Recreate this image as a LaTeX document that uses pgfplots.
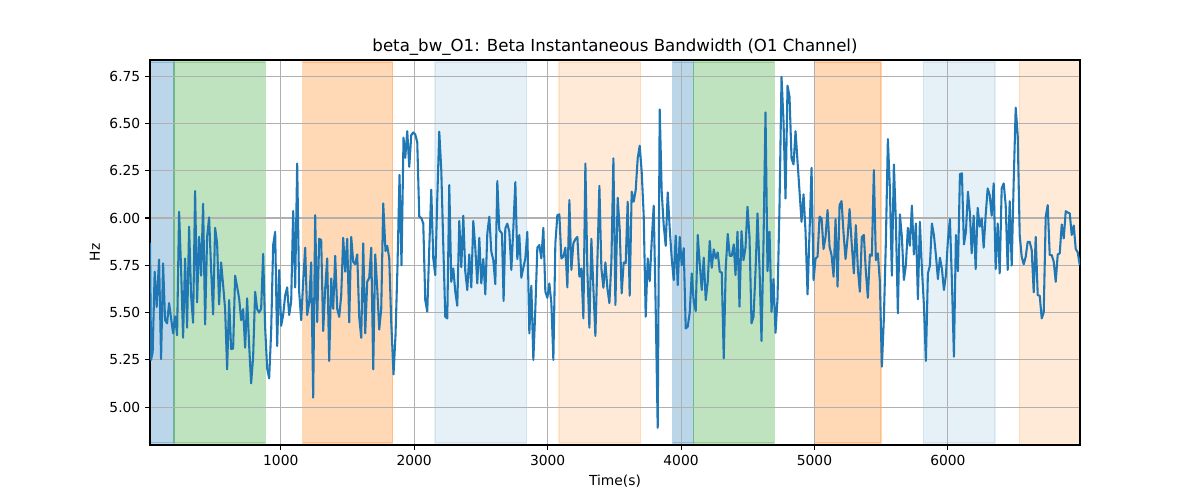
\documentclass[border=0pt]{standalone}
\usepackage{fontspec}
\setmainfont{DejaVu Sans}
\usepackage{pgfplots}
\pgfplotsset{compat=1.18}
\definecolor{c0}{HTML}{1F77B4}
\definecolor{c1}{HTML}{FF7F0E}
\definecolor{c2}{HTML}{2CA02C}
\definecolor{gridc}{HTML}{B0B0B0}
\begin{document}
\begin{tikzpicture}
\begin{axis}[
  set layers,
  at={(0,0)}, anchor=south west,
  scale only axis, width=9.3in, height=3.85in,
  xmin=20, xmax=6990, ymin=4.80, ymax=6.835,
  xtick={1000,2000,3000,4000,5000,6000},
  ytick={5,5.25,5.5,5.75,6,6.25,6.5,6.75},
  yticklabel style={/pgf/number format/.cd,fixed,fixed zerofill,precision=2},
  /pgf/number format/assume math mode=true,
  scaled ticks=false,
  xticklabel style={/pgf/number format/1000 sep={}},
  grid=major, grid style={gridc, line width=0.8pt},
  tick align=outside, tick pos=left, major tick length=3.5pt,
  tick style={black, line width=0.8pt},
  axis line style={line width=0.8pt},
  ticklabel style={font=\fontsize{10}{12}\selectfont},
  label style={font=\fontsize{10}{12}\selectfont},
  xlabel={Time(s)}, ylabel={Hz},
  title={beta\_bw\_O1: Beta Instantaneous Bandwidth (O1 Channel)},
  title style={font=\fontsize{12}{14}\selectfont, at={(0.5,1)}, anchor=base, yshift=0.3pt, inner sep=0pt},
]
% shaded spans
\addplot[on layer=axis background, fill=c0, draw=c0, line width=1pt, opacity=0.3] coordinates {(20,4.81)(20,6.825)(200,6.825)(200,4.81)} --cycle;
\addplot[on layer=axis background, fill=c2, draw=c2, line width=1pt, opacity=0.3] coordinates {(200,4.81)(200,6.825)(885,6.825)(885,4.81)} --cycle;
\addplot[on layer=axis background, fill=c1, draw=c1, line width=1pt, opacity=0.3] coordinates {(1165,4.81)(1165,6.825)(1838,6.825)(1838,4.81)} --cycle;
\addplot[on layer=axis background, fill=c0, draw=c0, line width=1pt, opacity=0.11] coordinates {(2155,4.81)(2155,6.825)(2843,6.825)(2843,4.81)} --cycle;
\addplot[on layer=axis background, fill=c1, draw=c1, line width=1pt, opacity=0.16] coordinates {(3085,4.81)(3085,6.825)(3698,6.825)(3698,4.81)} --cycle;
\addplot[on layer=axis background, fill=c0, draw=c0, line width=1pt, opacity=0.3] coordinates {(3937,4.81)(3937,6.825)(4093,6.825)(4093,4.81)} --cycle;
\addplot[on layer=axis background, fill=c2, draw=c2, line width=1pt, opacity=0.3] coordinates {(4093,4.81)(4093,6.825)(4700,6.825)(4700,4.81)} --cycle;
\addplot[on layer=axis background, fill=c1, draw=c1, line width=1pt, opacity=0.3] coordinates {(5000,4.81)(5000,6.825)(5498,6.825)(5498,4.81)} --cycle;
\addplot[on layer=axis background, fill=c0, draw=c0, line width=1pt, opacity=0.11] coordinates {(5816,4.81)(5816,6.825)(6353,6.825)(6353,4.81)} --cycle;
\addplot[on layer=axis background, fill=c1, draw=none, opacity=0.16] coordinates {(6535,4.8)(6535,6.835)(6990,6.835)(6990,4.8)} --cycle;
\addplot[on layer=axis background, draw=c1, line width=1pt, opacity=0.16] coordinates {(6535,4.81)(6535,6.825)};
% signal
\addplot[c0, line width=1.5pt, mark=none, line join=round] coordinates {
(20,5.87)(28,5.25)(40,5.29)(55,5.716)(70,5.53)(88,5.78)(103,5.254)(118,5.76)(133,5.46)(148,5.443)(163,5.55)(178,5.47)(193,5.39)(208,5.48)(223,5.38)(238,6.033)(253,5.73)(268,5.367)(283,5.786)(298,5.42)(313,5.954)(328,5.59)(343,5.446)(358,6.142)(373,5.554)(388,5.90)(403,5.695)(418,6.075)(433,5.437)(448,5.90)(463,6.003)(478,5.73)(493,5.49)(508,5.948)(523,5.866)(538,5.543)(553,5.765)(568,5.645)(583,5.518)(598,5.20)(613,5.566)(628,5.307)(643,5.31)(658,5.695)(673,5.637)(688,5.575)(703,5.46)(718,5.518)(733,5.314)(748,5.575)(763,5.328)(778,5.126)(793,5.267)(808,5.61)(823,5.518)(838,5.50)(853,5.52)(868,5.81)(883,5.42)(898,5.205)
(913,5.152)(928,5.40)(943,5.857)(958,5.927)(973,5.323)(988,5.725)(1003,5.43)(1018,5.487)(1033,5.59)(1048,5.633)(1063,5.487)(1078,5.557)(1093,6.037)(1108,5.633)(1123,6.288)(1138,5.61)(1153,5.46)(1168,5.663)(1183,5.843)(1198,5.487)(1213,5.55)(1228,5.765)(1243,5.05)(1258,6.015)(1273,5.45)(1288,5.89)(1303,5.883)(1318,5.402)(1333,5.627)(1348,5.786)(1363,5.244)(1378,5.68)(1393,5.52)(1408,5.80)(1423,5.52)(1438,5.477)(1453,5.59)(1468,5.895)(1483,5.716)(1498,5.89)(1513,5.448)(1528,5.90)(1543,5.768)(1558,5.756)(1573,5.807)(1588,5.477)(1603,5.367)(1618,5.866)(1633,5.39)(1648,5.663)(1663,5.684)(1678,5.843)(1693,5.20)(1708,5.807)(1723,5.627)(1738,5.41)(1753,5.52)(1768,6.077)
(1785,5.825)(1798,5.853)(1813,5.786)(1828,5.45)(1845,5.173)(1860,5.38)(1875,5.75)(1890,6.227)(1905,5.75)(1920,6.424)(1933,6.318)(1948,6.459)(1963,6.27)(1978,6.438)(1993,6.452)(2008,6.442)(2023,6.40)(2038,6.007)(2053,6.0)(2068,5.971)(2083,5.566)(2098,5.505)(2113,5.84)(2128,6.15)(2143,5.786)(2158,5.698)(2173,6.103)(2188,6.456)(2203,6.253)(2218,5.857)(2233,5.478)(2248,5.469)(2263,6.174)(2278,5.663)(2293,5.733)(2308,5.61)(2323,5.536)(2338,5.984)(2353,5.74)(2368,6.012)(2383,5.716)(2398,5.619)(2413,5.807)(2428,5.633)(2443,5.984)(2458,5.84)(2473,5.654)(2488,5.895)(2503,5.654)(2518,5.783)(2533,5.596)(2548,5.918)(2563,6.007)(2578,5.822)(2593,5.777)(2608,5.65)(2623,6.195)(2638,5.936)
(2645,5.93)(2658,5.918)(2670,5.561)(2683,5.945)(2698,5.97)(2713,5.927)(2728,5.725)(2743,5.945)(2758,6.19)(2773,5.783)(2788,5.91)(2803,5.684)(2818,5.737)(2833,5.786)(2848,5.927)(2863,5.39)(2878,5.642)(2893,5.25)(2908,5.52)(2923,5.843)(2938,5.857)(2953,5.786)(2968,5.948)(2983,5.61)(2998,5.578)(3013,5.654)(3028,5.55)(3043,5.25)(3058,5.866)(3073,6.015)(3088,6.019)(3103,5.786)(3118,5.795)(3133,5.843)(3148,5.633)(3163,6.095)(3178,5.725)(3193,5.866)(3208,5.888)(3223,5.90)(3238,5.69)(3253,5.733)(3268,5.469)(3283,6.288)(3298,5.716)(3313,5.42)(3328,5.89)(3343,5.628)(3358,5.376)(3388,6.17)(3403,5.733)(3418,5.631)(3433,5.765)(3448,5.628)(3463,5.55)(3478,5.77)(3493,6.315)(3508,5.54)
(3525,6.107)(3540,5.945)(3555,5.601)(3570,5.765)(3585,5.76)(3600,6.086)(3615,5.589)(3630,6.139)(3645,6.086)(3660,6.147)(3675,6.315)(3690,6.382)(3705,6.244)(3720,6.015)(3735,5.478)(3750,5.786)(3765,5.666)(3780,5.874)(3795,6.065)(3810,5.52)(3825,4.891)(3840,6.574)(3855,6.139)(3870,5.962)(3885,5.853)(3900,6.135)(3915,5.945)(3930,5.786)(3945,5.672)(3960,5.906)(3975,5.645)(3990,5.90)(4005,5.75)(4020,5.84)(4035,5.416)(4050,5.425)(4065,5.50)(4080,5.707)(4095,5.557)(4110,5.508)(4125,5.91)(4140,5.76)(4155,5.619)(4170,5.79)(4185,5.566)(4200,5.663)(4215,5.878)(4230,5.737)(4245,5.834)(4260,5.786)(4275,5.818)(4290,5.716)(4305,5.712)(4320,5.258)(4335,5.737)(4350,5.915)(4365,5.80)(4380,5.80)(4395,5.86)
(4408,5.698)(4423,5.927)(4438,5.531)(4453,5.93)(4468,5.777)(4483,5.843)(4498,6.059)(4513,5.90)(4528,5.443)(4543,5.478)(4558,5.716)(4573,6.024)(4588,5.733)(4603,5.35)(4618,5.874)(4633,6.558)(4648,5.719)(4663,5.927)(4678,5.504)(4693,5.677)(4708,5.393)(4723,5.575)(4738,6.068)(4753,6.746)(4768,6.509)(4783,6.103)(4798,6.699)(4813,6.641)(4828,6.315)(4843,6.283)(4858,6.459)(4873,6.297)(4888,6.139)(4903,5.98)(4918,6.125)(4933,5.927)(4948,5.596)(4963,5.927)(4978,6.265)(4993,5.672)(5008,5.786)(5023,5.795)(5038,6.007)(5053,5.998)(5068,5.836)(5083,5.90)(5098,6.042)(5113,5.848)(5128,5.804)(5143,5.69)(5158,5.994)(5173,5.637)(5188,6.068)(5203,6.089)(5218,5.918)(5233,5.783)(5248,5.895)(5263,6.047)(5278,5.874)
(5295,5.707)(5310,5.962)(5325,5.733)(5340,5.61)(5355,5.90)(5370,5.91)(5385,5.716)(5400,5.578)(5415,5.807)(5430,5.80)(5445,6.253)(5460,5.777)(5475,5.813)(5490,5.663)(5505,5.214)(5520,5.469)(5535,5.874)(5550,6.417)(5565,6.158)(5580,5.695)(5595,6.283)(5610,5.98)(5625,5.496)(5640,6.019)(5655,5.90)(5670,5.672)(5685,5.751)(5700,5.948)(5715,5.853)(5730,6.065)(5745,5.807)(5760,5.971)(5775,5.571)(5790,5.98)(5805,5.733)(5820,5.54)(5835,5.244)(5850,5.707)(5865,5.748)(5880,5.971)(5895,5.91)(5910,5.804)(5925,5.677)(5940,5.79)(5955,5.733)(5970,5.619)(5985,5.698)(6000,5.883)(6015,5.994)(6030,5.666)(6045,5.267)(6060,5.91)(6075,5.719)(6090,6.232)(6105,6.236)(6120,5.86)(6135,5.927)(6150,6.139)(6165,6.024)
(6178,5.813)(6193,6.012)(6208,5.73)(6223,6.054)(6238,5.954)(6253,5.998)(6268,5.843)(6283,6.015)(6298,6.156)(6313,6.121)(6328,6.012)(6343,6.183)(6358,5.73)(6373,5.971)(6388,5.707)(6403,6.156)(6418,6.183)(6433,6.068)(6448,5.725)(6463,6.089)(6478,5.748)(6493,6.192)(6508,6.583)(6523,6.438)(6538,5.91)(6553,5.795)(6568,5.755)(6583,5.795)(6598,5.874)(6613,5.874)(6628,5.83)(6643,5.607)(6658,5.90)(6673,5.592)(6688,5.589)(6703,5.469)(6718,5.501)(6733,6.007)(6748,6.068)(6763,5.804)(6778,5.804)(6793,5.769)(6808,5.663)(6823,5.807)(6838,5.813)(6853,5.966)(6868,5.892)(6883,6.036)(6898,6.029)(6913,6.024)(6928,5.91)(6943,5.96)(6958,5.836)(6973,5.818)(6988,5.751)
};
\end{axis}
\pgfresetboundingbox
\path (-1.5in,-0.55in) rectangle (10.5in,4.45in);
\end{tikzpicture}
\end{document}
